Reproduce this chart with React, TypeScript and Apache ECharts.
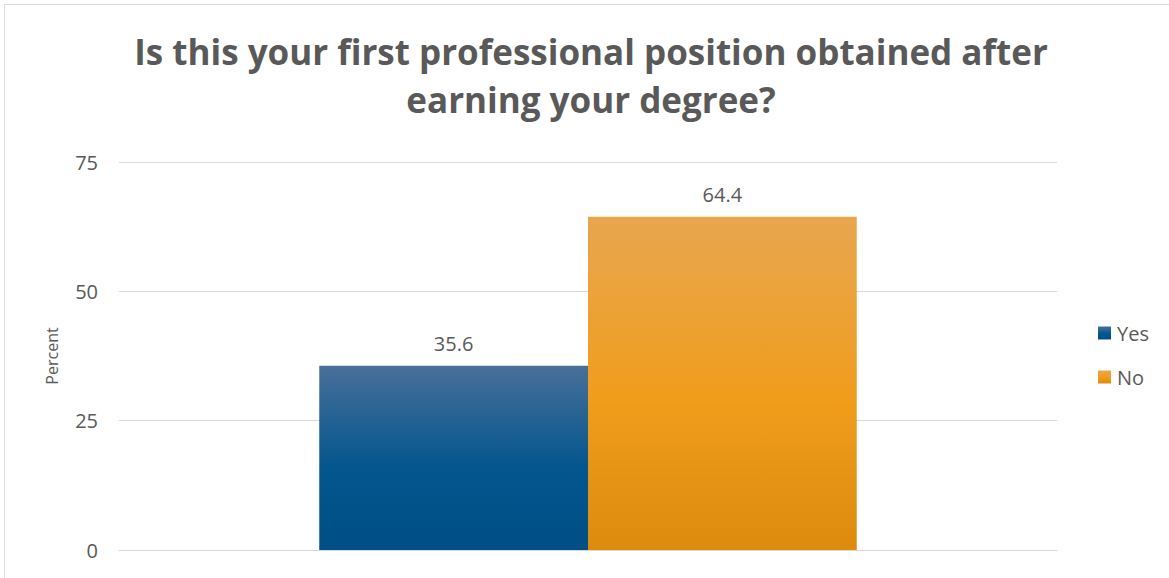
import React, { useEffect, useRef } from "react";
import * as echarts from "echarts";

const categories = [""];
const seriesNames = ["Yes", "No"];
const yesValues = [35.6];
const noValues = [64.4];
const yTicks = [0, 25, 50, 75];

const titleText = "Is this your first professional position obtained after\nearning your degree?";

export default function App() {
  const ref = useRef<HTMLDivElement>(null);
  useEffect(() => {
    const chart = echarts.init(ref.current!, undefined, { renderer: "svg" });
    const grad = (c0: string, c1: string, c2: string) =>
      new echarts.graphic.LinearGradient(0, 0, 0, 1, [
        { offset: 0, color: c0 },
        { offset: 0.55, color: c1 },
        { offset: 1, color: c2 },
      ]);
    const yesColor = grad("#496f99", "#03568e", "#004f86");
    const noColor = grad("#e8a64f", "#f09d1c", "#dc8b0d");
    const labelStyle = {
      show: true,
      position: "top" as const,
      distance: 12,
      color: "#595959",
      fontSize: 20,
      fontFamily: "Open Sans",
    };
    chart.setOption({
      animation: false,
      backgroundColor: "#ffffff",
      graphic: [
        {
          type: "rect",
          shape: { x: 4.5, y: 4.5, width: 1200, height: 600 },
          style: { fill: "none", stroke: "#d9d9d9", lineWidth: 1 },
          silent: true,
        },
      ],
      title: {
        text: titleText,
        left: 586,
        textAlign: "center",
        top: 22,
        textStyle: {
          fontFamily: "Open Sans",
          fontWeight: "bold",
          fontSize: 35,
          color: "#595959",
          lineHeight: 48,
        },
      },
      legend: {
        orient: "vertical",
        left: 1093,
        top: 318,
        itemWidth: 13,
        itemHeight: 13,
        itemGap: 24,
        icon: "rect",
        data: seriesNames,
        textStyle: { fontFamily: "Open Sans", fontSize: 20, color: "#595959", padding: [0, 0, 0, 1] },
      },
      grid: { left: 119, right: 112, top: 162, bottom: 28, containLabel: false },
      xAxis: {
        type: "category",
        data: categories,
        axisLine: { show: true, lineStyle: { color: "#d9d9d9", width: 1 } },
        axisTick: { show: false },
        axisLabel: { show: false },
      },
      yAxis: {
        type: "value",
        min: yTicks[0],
        max: yTicks[yTicks.length - 1],
        interval: 25,
        name: "Percent",
        nameLocation: "middle",
        nameGap: 59,
        nameTextStyle: { fontFamily: "Open Sans", fontSize: 16, color: "#595959" },
        axisLine: { show: false },
        axisTick: { show: false },
        axisLabel: { fontFamily: "Open Sans", fontSize: 20, color: "#595959", margin: 21 },
        splitLine: { lineStyle: { color: "#d9d9d9", width: 1 } },
      },
      series: [
        {
          name: seriesNames[0],
          type: "bar",
          data: yesValues,
          barGap: "0%",
          barCategoryGap: "42.7%",
          itemStyle: { color: yesColor },
          label: labelStyle,
        },
        {
          name: seriesNames[1],
          type: "bar",
          data: noValues,
          barGap: "0%",
          barCategoryGap: "42.7%",
          itemStyle: { color: noColor },
          label: labelStyle,
        },
      ],
    });
    return () => chart.dispose();
  }, []);
  return (
    <div
      ref={ref}
      style={{ position: "fixed", left: 0, top: 0, width: 1169, height: 578 }}
    />
  );
}
